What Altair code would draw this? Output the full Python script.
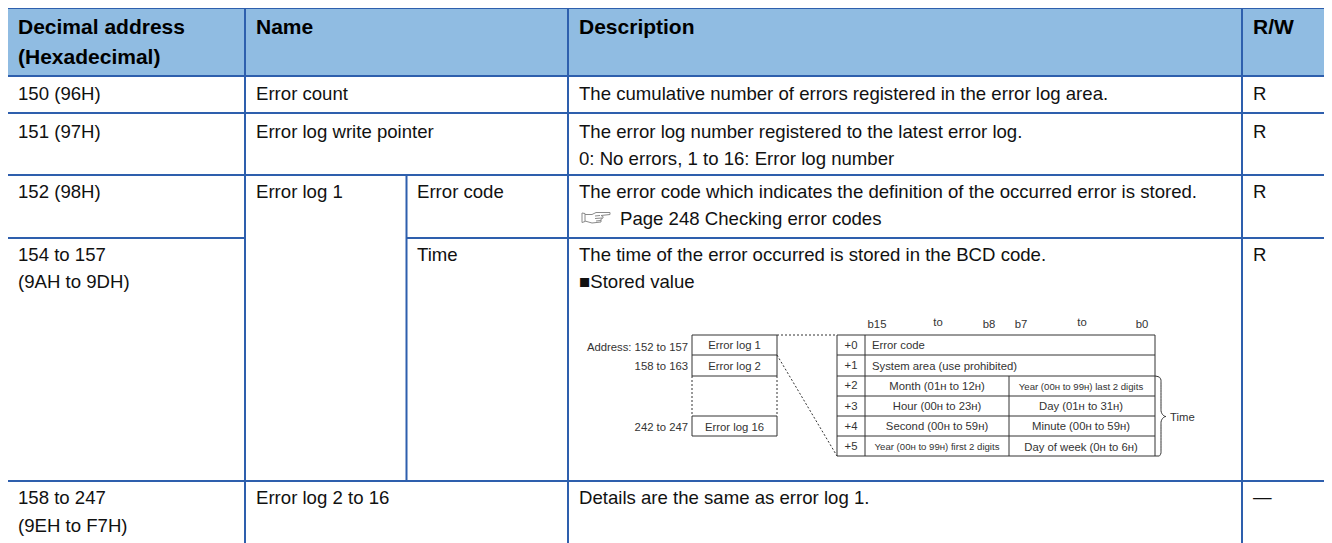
import altair as alt
import pandas as pd

# ---- table structure (window pixels) ----
LEFT, COL1, COL2, COL3, COL4, RIGHT = 8, 245, 406.5, 568, 1242, 1324
TOP, HEAD, ROW1, ROW2, ROW3, ROW4, BOTTOM = 8, 76, 113, 175, 238, 481, 543

header_fill = [(LEFT, RIGHT, TOP, HEAD)]

grid_segments = [
    (LEFT, RIGHT, TOP, TOP), (LEFT, RIGHT, HEAD, HEAD), (LEFT, RIGHT, ROW1, ROW1),
    (LEFT, RIGHT, ROW2, ROW2), (LEFT, COL1, ROW3, ROW3), (COL2, RIGHT, ROW3, ROW3),
    (LEFT, RIGHT, ROW4, ROW4),
    (COL1, COL1, TOP, BOTTOM), (COL2, COL2, ROW2, ROW4),
    (COL3, COL3, TOP, BOTTOM), (COL4, COL4, TOP, BOTTOM),
]

X0, X1, X2, X3 = 18, 256, 417, 579
X4 = 1253
header_text = [
    (X0, 34, "Decimal address"), (X0, 64, "(Hexadecimal)"),
    (X1, 34, "Name"), (X3, 34, "Description"), (X4, 34, "R/W"),
]
body_text = [
    (X0, 100, "150 (96H)"), (X1, 100, "Error count"),
    (X3, 100, "The cumulative number of errors registered in the error log area."), (X4, 100, "R"),
    (X0, 138, "151 (97H)"), (X1, 138, "Error log write pointer"),
    (X3, 138, "The error log number registered to the latest error log."), (X4, 138, "R"),
    (X3, 165, "0: No errors, 1 to 16: Error log number"),
    (X0, 198, "152 (98H)"), (X1, 198, "Error log 1"), (X2, 198, "Error code"),
    (X3, 198, "The error code which indicates the definition of the occurred error is stored."), (X4, 198, "R"),
    (620, 225, "Page 248 Checking error codes"),
    (X0, 261, "154 to 157"), (X0, 288, "(9AH to 9DH)"), (X2, 261, "Time"),
    (X3, 261, "The time of the error occurred is stored in the BCD code."), (X4, 261, "R"),
    (X3, 288, "■Stored value"),
    (X0, 504, "158 to 247"), (X0, 532, "(9EH to F7H)"), (X1, 504, "Error log 2 to 16"),
    (X3, 504, "Details are the same as error log 1."),
]
dash_text = [(X4, 503, "—")]

# pointing-hand reference icon, as outline strokes (stroke id, x, y)
hand_strokes = [
    (0, 585, 213.5), (0, 582, 213), (0, 582, 222.5), (0, 585, 221.5), (0, 585, 213.5),
    (1, 585, 214.5), (1, 592, 214.5), (1, 596, 212.5), (1, 610, 212.5), (1, 610, 214.5),
    (1, 601, 215.5), (1, 603, 216.5), (1, 603, 218), (1, 601, 219), (1, 601, 222),
    (1, 592, 223), (1, 585, 221),
    (2, 595, 216), (2, 600, 215.5),
    (3, 595, 218.5), (3, 602, 218),
    (4, 596, 221), (4, 601, 220.5),
]

# ---- memory map figure ----
BX0, BX1 = 692, 777
BY = [335, 355, 376, 416, 436]
TX0, TX1, TXM, TX2 = 837, 865, 1009, 1155
TY = [335, 355, 376, 396, 416, 436, 456]

fig_segments = [
    (BX0, BX1, BY[0], BY[0]), (BX0, BX1, BY[1], BY[1]), (BX0, BX1, BY[2], BY[2]),
    (BX0, BX1, BY[3], BY[3]), (BX0, BX1, BY[4], BY[4]),
    (BX0, BX0, BY[0], BY[2]), (BX1, BX1, BY[0], BY[2]),
    (BX0, BX0, BY[3], BY[4]), (BX1, BX1, BY[3], BY[4]),
    (TX0, TX0, TY[0], TY[6]), (TX1, TX1, TY[0], TY[6]), (TX2, TX2, TY[0], TY[6]),
    (TXM, TXM, TY[2], TY[6]),
] + [(TX0, TX2, y, y) for y in TY]

fig_dashed = [
    (BX0, BX0, BY[2], BY[3]), (BX1, BX1, BY[2], BY[3]),
    (BX1, TX0, BY[0], TY[0]), (BX1, TX0, BY[1], TY[6]),
]

brace_x = [1155, 1159, 1161, 1161, 1163, 1166, 1163, 1161, 1161, 1159, 1155]
brace_y = [376, 377, 380, 411, 415, 416.5, 418, 422, 453, 456, 456]

fig_center = [
    (734.5, 349, "Error log 1"), (734.5, 370, "Error log 2"), (734.5, 431, "Error log 16"),
    (851, 349, "+0"), (851, 369, "+1"), (851, 389, "+2"), (851, 410, "+3"), (851, 430, "+4"), (851, 450, "+5"),
    (937, 390, "Month (01ʜ to 12ʜ)"), (937, 410, "Hour (00ʜ to 23ʜ)"), (937, 430, "Second (00ʜ to 59ʜ)"),
    (1081, 410, "Day (01ʜ to 31ʜ)"), (1081, 430, "Minute (00ʜ to 59ʜ)"), (1081, 451, "Day of week (0ʜ to 6ʜ)"),
    (877, 328, "b15"), (938, 326, "to"), (989, 328, "b8"), (1021, 328, "b7"), (1082, 326, "to"), (1142, 328, "b0"),
]
fig_left = [(872, 349, "Error code"), (872, 370, "System area (use prohibited)"), (1170, 421, "Time")]
fig_right = [(688, 351, "Address: 152 to 157"), (688, 370, "158 to 163"), (688, 431, "242 to 247")]
fig_narrow = [
    (1081, 390, "Year (00ʜ to 99ʜ) last 2 digits"),
    (937, 450, "Year (00ʜ to 99ʜ) first 2 digits"),
]

# ---- scales: data units are window pixels; the page margin is 8 px ----
WIDTH, HEIGHT = 1316, 535
xs = alt.Scale(domain=[8, 1324], range=[0, WIDTH], nice=False, zero=False)
ys = alt.Scale(domain=[8, 543], range=[0, HEIGHT], nice=False, zero=False)
X = lambda f: alt.X(f, type="quantitative", scale=xs, axis=None)
Y = lambda f: alt.Y(f, type="quantitative", scale=ys, axis=None)


def seg_df(rows):
    return pd.DataFrame(rows, columns=["x", "x2", "y", "y2"])


def rules(rows, color, width, dash=None):
    kw = dict(color=color, strokeWidth=width)
    if dash:
        kw["strokeDash"] = dash
    return alt.Chart(seg_df(rows)).mark_rule(**kw).encode(
        x=X("x"), x2="x2", y=Y("y"), y2="y2")


def texts(rows, size, color="#111111", font="Liberation Sans", weight="normal", align="left"):
    df = pd.DataFrame(rows, columns=["x", "y", "t"])
    return alt.Chart(df).mark_text(
        fontSize=size, color=color, font=font, fontWeight=weight,
        align=align, baseline="alphabetic",
    ).encode(x=X("x"), y=Y("y"), text="t:N")


FIG = "#333333"
brace_df = pd.DataFrame({"x": brace_x, "y": brace_y, "o": range(len(brace_x))})
hand_df = pd.DataFrame(hand_strokes, columns=["s", "x", "y"])
hand_df["o"] = range(len(hand_df))

layers = [
    alt.Chart(seg_df(header_fill)).mark_rect(color="#90BCE2").encode(
        x=X("x"), x2="x2", y=Y("y"), y2="y2"),
    rules(grid_segments, "#2E5FAD", 2),
    rules(fig_segments, "#333333", 1),
    rules(fig_dashed, "#333333", 1, [2, 2]),
    alt.Chart(brace_df).mark_line(color="#333333", strokeWidth=1, interpolate="monotone").encode(
        x=X("x"), y=Y("y"), order="o:Q"),
    alt.Chart(hand_df).mark_line(color="#8a8a8a", strokeWidth=1).encode(
        x=X("x"), y=Y("y"), detail="s:N", order="o:Q"),
    texts(header_text, 21, color="#000000", weight="bold"),
    texts(body_text, 18.6),
    texts(dash_text, 18.6),
    texts(fig_center, 11.3, color=FIG, align="center"),
    texts(fig_left, 11.3, color=FIG),
    texts(fig_right, 11.3, color=FIG, align="right"),
    texts(fig_narrow, 9.6, color=FIG, align="center"),
]

chart = alt.layer(*layers).properties(
    width=WIDTH, height=HEIGHT, padding=0,
    autosize=alt.AutoSizeParams(type="none"),
    background="#ffffff",
).configure_view(stroke=None)

chart.save("out.html", embed_options={"renderer": "svg", "actions": False})
